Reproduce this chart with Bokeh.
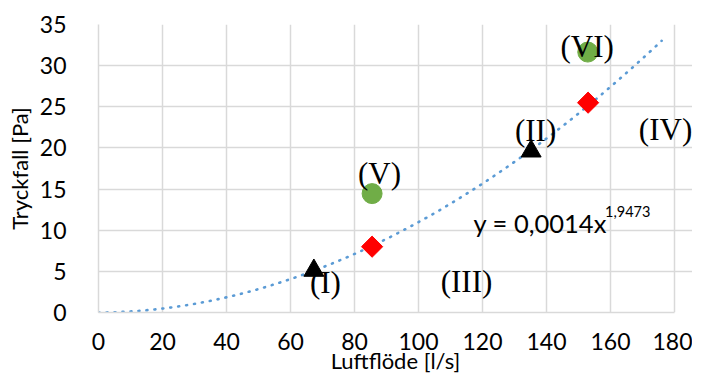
import numpy as np
from bokeh.plotting import figure
from bokeh.models import Label, Range1d, FixedTicker
from bokeh.embed import file_html
from bokeh.resources import INLINE

# --- data ---
tri_x = [67.3, 135.2]
tri_y = [5.1, 19.6]
dia_x = [85.5, 153.0]
dia_y = [8.0, 25.5]
circ_x = [85.5, 152.9]
circ_y = [14.45, 31.65]

# trend line as stated on the chart: y = 0,0014 x^1,9473
trend_coef = 0.0014
trend_exp = 1.9473
trend_xmax = 176.0

roman_text = ["(I)", "(II)", "(III)", "(IV)", "(V)", "(VI)"]
roman_x = [70.9, 136.6, 115.0, 177.2, 87.8, 152.7]
roman_y = [3.7, 22.1, 3.8, 22.3, 16.95, 32.3]

x_ticks = [0, 20, 40, 60, 80, 100, 120, 140, 160, 180]
y_ticks = [0, 5, 10, 15, 20, 25, 30, 35]
x_min, x_max = 0, 180
y_min, y_max = 0, 35

GRID = "#D9D9D9"

# the frame extends a little past x=180 so the (IV) note is not clipped;
# grid and axis are bounded to 0..180
p = figure(width=692, height=376, output_backend="svg",
           toolbar_location=None, min_border_left=98, min_border_top=24,
           min_border_right=0, min_border_bottom=62,
           x_range=Range1d(x_min, x_max + 5.625), y_range=Range1d(y_min, y_max))
p.outline_line_color = None
p.background_fill_color = "white"
p.border_fill_color = "white"

for ax in (p.xaxis[0], p.yaxis[0]):
    ax.axis_line_color = GRID
    ax.axis_line_width = 1.5
    ax.major_tick_line_color = None
    ax.minor_tick_line_color = None
    ax.major_label_text_font = "Lato"
    ax.major_label_text_font_size = "23px"
    ax.major_label_text_color = "black"
    ax.axis_label_text_font = "Lato"
    ax.axis_label_text_font_size = "22px"
    ax.axis_label_text_font_style = "normal"
    ax.axis_label_text_color = "black"

p.xaxis.ticker = FixedTicker(ticks=x_ticks)
p.yaxis.ticker = FixedTicker(ticks=y_ticks)
p.xaxis.bounds = (x_min, x_max)
p.xaxis.axis_label = "Luftflöde [l/s]"
p.yaxis.axis_label = "Tryckfall [Pa]"
p.yaxis.major_label_standoff = 26
p.xaxis.major_label_standoff = 14
p.yaxis.axis_label_standoff = 4
p.xaxis.axis_label_standoff = -6

p.xgrid.grid_line_color = GRID
p.ygrid.grid_line_color = GRID
p.xgrid.grid_line_width = 1.5
p.ygrid.grid_line_width = 1.5
p.ygrid.bounds = (x_min, x_max)

# trend line
tx = np.linspace(0, trend_xmax, 300)
ty = trend_coef * tx ** trend_exp
p.line(tx, ty, line_color="#5B9BD5", line_width=2.6, line_dash="1 7",
       line_cap="round")

p.scatter(circ_x, circ_y, marker="circle", size=20, fill_color="#70AD47",
          line_color="#70AD47")
p.scatter(dia_x, dia_y, marker="square", size=15, angle=np.pi / 4,
          fill_color="#FF0000", line_color="#FF0000")
p.scatter(tri_x, tri_y, marker="triangle", size=20, fill_color="black",
          line_color="black")

for t, x, y in zip(roman_text, roman_x, roman_y):
    p.add_layout(Label(x=x, y=y, text=t, text_align="center",
                       text_baseline="middle", text_font="Liberation Serif",
                       text_font_size="31px", text_color="black"))

p.add_layout(Label(x=117.2, y=10.86, text="y = 0,0014x", text_align="left",
                   text_baseline="alphabetic", text_font="Lato",
                   text_font_size="25.5px", text_color="black"))
p.add_layout(Label(x=158.3, y=12.3, text="1,9473", text_align="left",
                   text_baseline="alphabetic", text_font="Lato",
                   text_font_size="14.5px", text_color="black"))

open("out.html", "w").write(file_html(p, INLINE))
